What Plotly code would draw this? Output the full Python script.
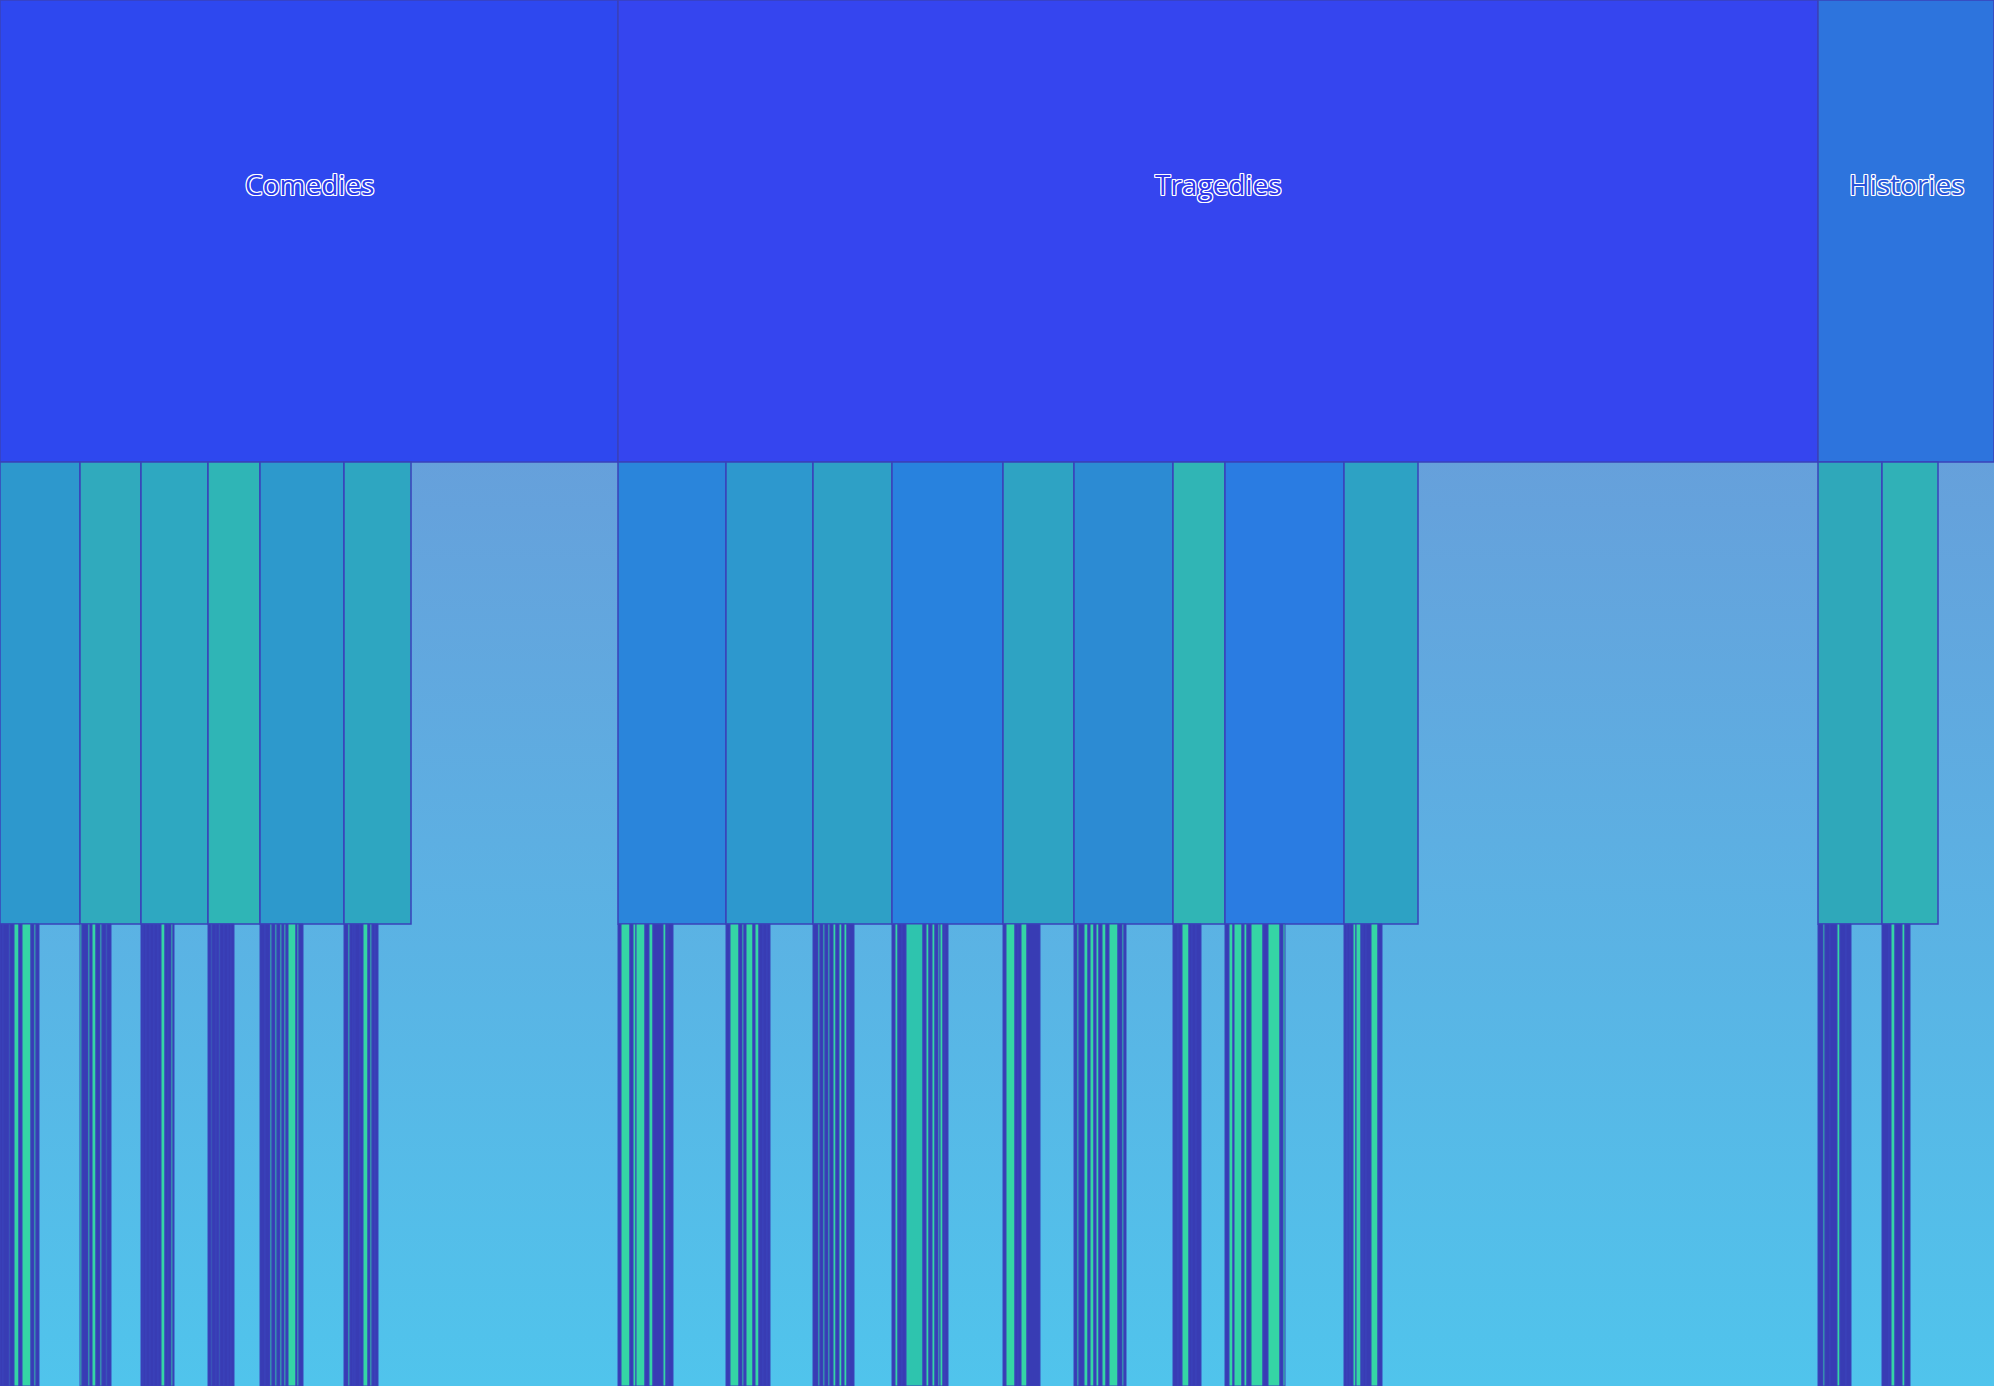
import base64
import plotly.graph_objects as go

# ---------------- data ----------------
categories = ["Comedies", "Tragedies", "Histories"]
category_values = [618, 1200, 176]

comedy_plays = ["As You Like It", "The Comedy of Errors", "Love's Labour's Lost",
                "Measure for Measure", "The Merchant of Venice", "A Midsummer Night's Dream"]
comedy_values = [80, 61, 67, 52, 84, 67]

tragedy_plays = ["Antony and Cleopatra", "Coriolanus", "Hamlet", "Julius Caesar",
                 "King Lear", "Macbeth", "Othello", "Romeo and Juliet", "Titus Andronicus"]
tragedy_values = [108, 87, 79, 111, 71, 99, 52, 119, 74]

history_plays = ["Henry IV, Part 1", "Richard III"]
history_values = [64, 56]

# scene sizes per play (in play order) and scene kind code
comedy_scene_sizes = [
    [3, 6, 1, 4, 5, 3, 9, 3, 2, 3],
    [2, 6, 2, 2, 4, 4, 2, 4, 1, 4],
    [2, 3, 4, 4, 4, 3, 4, 3, 3, 2, 1],
    [3, 1, 4, 3, 1, 4, 4, 3, 3],
    [5, 5, 2, 3, 2, 3, 2, 2, 2, 2, 8, 1, 2, 4],
    [4, 2, 3, 2, 5, 3, 5, 2, 2, 3, 3],
]
comedy_scene_kinds = [
    "IIGIGIGIGI",
    "GIGIGIGIGI",
    "IIIIIIGIIGI",
    "IGIIGIIII",
    "IIGIGIGIGIGIGI",
    "IGIIIIGIGII",
]
tragedy_scene_sizes = [
    [3, 9, 3, 3, 9, 4, 4, 10, 3, 2, 5],
    [4, 9, 3, 2, 2, 7, 2, 4, 4, 4, 3],
    [5, 2, 3, 2, 3, 2, 3, 3, 3, 3, 2, 3, 2, 5],
    [3, 3, 4, 4, 17, 3, 3, 3, 3, 3, 2, 3, 2, 3],
    [3, 9, 3, 3, 6, 13],
    [3, 2, 5, 4, 2, 4, 2, 3, 3, 4, 3, 9, 4, 2, 2],
    [5, 4, 7, 3, 4, 5],
    [4, 4, 1, 8, 2, 3, 4, 12, 5, 12, 3, 2],
    [3, 3, 3, 3, 5, 2, 3, 5, 7, 4],
]
tragedy_scene_kinds = [
    "IGIGGIGIGII",
    "IGIGIGIGIII",
    "IGIGIGIGIGIGII",
    "IGIITIGIGIGGII",
    "IGIIGI",
    "IGIGIGIGIGIGIGI",
    "IIGIII",
    "IGIGIGIGIGIG",
    "IIIGGIIIGI",
]
history_scene_sizes = [
    [5, 2, 5, 7, 3, 6, 5],
    [7, 2, 4, 7, 3, 5],
]
history_scene_kinds = [
    "IGIIGII",
    "IIGIGI",
]

# ---------------- styles ----------------
category_colors = {"Comedies": "#2E48EF", "Tragedies": "#3545EF", "Histories": "#2D74DD"}
comedy_colors = ["#2D98CD", "#30AABD", "#2EA8C1", "#2FB5B6", "#2D99CC", "#2EA6C1"]
tragedy_colors = ["#2A85DB", "#2D98CE", "#2EA0C6", "#2882DE", "#2EA3C3",
                  "#2C8BD3", "#30B5B5", "#2A7CE2", "#2DA2C4"]
history_colors = ["#2FA8BA", "#30B1B7"]
kind_colors = {"I": "#383CB4", "G": "#35D5A5", "T": "#2EC4AE"}
label_colors = {"Comedies": "#2B3CE8", "Tragedies": "#3038E8", "Histories": "#2A55DA"}
LINE_COLOR = "#3A42BA"
WHITE_OUTLINE = ("-1px -1px 0 #fff, 1px -1px 0 #fff, -1px 1px 0 #fff, 1px 1px 0 #fff, "
                 "0 1px 0 #fff, 0 -1px 0 #fff, 1px 0 0 #fff, -1px 0 0 #fff")

groups = [
    (comedy_plays, comedy_values, comedy_colors, comedy_scene_sizes, comedy_scene_kinds),
    (tragedy_plays, tragedy_values, tragedy_colors, tragedy_scene_sizes, tragedy_scene_kinds),
    (history_plays, history_values, history_colors, history_scene_sizes, history_scene_kinds),
]

fig = go.Figure()
total = sum(category_values)
x0 = 0.0
annotations = []
for cat, cval, (plays, pvals, pcols, ssizes, skinds) in zip(categories, category_values, groups):
    ids, labels, parents, values = [cat], [cat], [""], [cval]
    colors, widths = [category_colors[cat]], [1.5]
    for play, pv, pc, sizes, kinds in zip(plays, pvals, pcols, ssizes, skinds):
        pid = f"{cat}/{play}"
        ids.append(pid); labels.append(play); parents.append(cat); values.append(pv)
        colors.append(pc); widths.append(1.5)
        for i, (s, k) in enumerate(zip(sizes, kinds)):
            ids.append(f"{pid}/{i+1}"); labels.append(f"{play} – Scene {i+1}")
            parents.append(pid); values.append(s)
            colors.append(kind_colors[k]); widths.append(1)
    x1 = x0 + cval / total
    fig.add_trace(go.Icicle(
        ids=ids, labels=labels, parents=parents, values=values,
        branchvalues="total", sort=False,
        marker=dict(colors=colors, line=dict(color=LINE_COLOR, width=widths)),
        leaf=dict(opacity=1),
        textinfo="none",
        pathbar=dict(visible=False),
        tiling=dict(orientation="v"),
        domain=dict(x=[x0, x1], y=[0, 1]),
        hoverinfo="none",
        name=cat,
    ))
    annotations.append(dict(
        text=cat, x=(x0 + x1) / 2, y=0.8672, xref="paper", yref="paper",
        xanchor="center", yanchor="middle", showarrow=False,
        font=dict(family="Open Sans", size=28, color=label_colors[cat], shadow=WHITE_OUTLINE),
    ))
    x0 = x1

svg = ('<svg xmlns="http://www.w3.org/2000/svg" width="100" height="100" preserveAspectRatio="none">'
       '<defs><linearGradient id="g" x1="0" y1="0" x2="0" y2="1">'
       '<stop offset="0" stop-color="#718ED3"/><stop offset="0.33" stop-color="#66A0DB"/>'
       '<stop offset="1" stop-color="#50C4EC"/></linearGradient></defs>'
       '<rect width="100" height="100" fill="url(#g)"/></svg>')
src = "data:image/svg+xml;base64," + base64.b64encode(svg.encode()).decode()

fig.update_layout(
    width=1994, height=1386,
    margin=dict(l=0, r=0, t=0, b=0),
    paper_bgcolor="rgba(0,0,0,0)",
    images=[dict(source=src, xref="paper", yref="paper", x=0, y=1, sizex=1, sizey=1,
                 sizing="stretch", xanchor="left", yanchor="top", layer="below")],
    annotations=annotations,
    font=dict(family="Open Sans"),
    showlegend=False,
    hovermode=False,
)

fig.write_html("out.html")
